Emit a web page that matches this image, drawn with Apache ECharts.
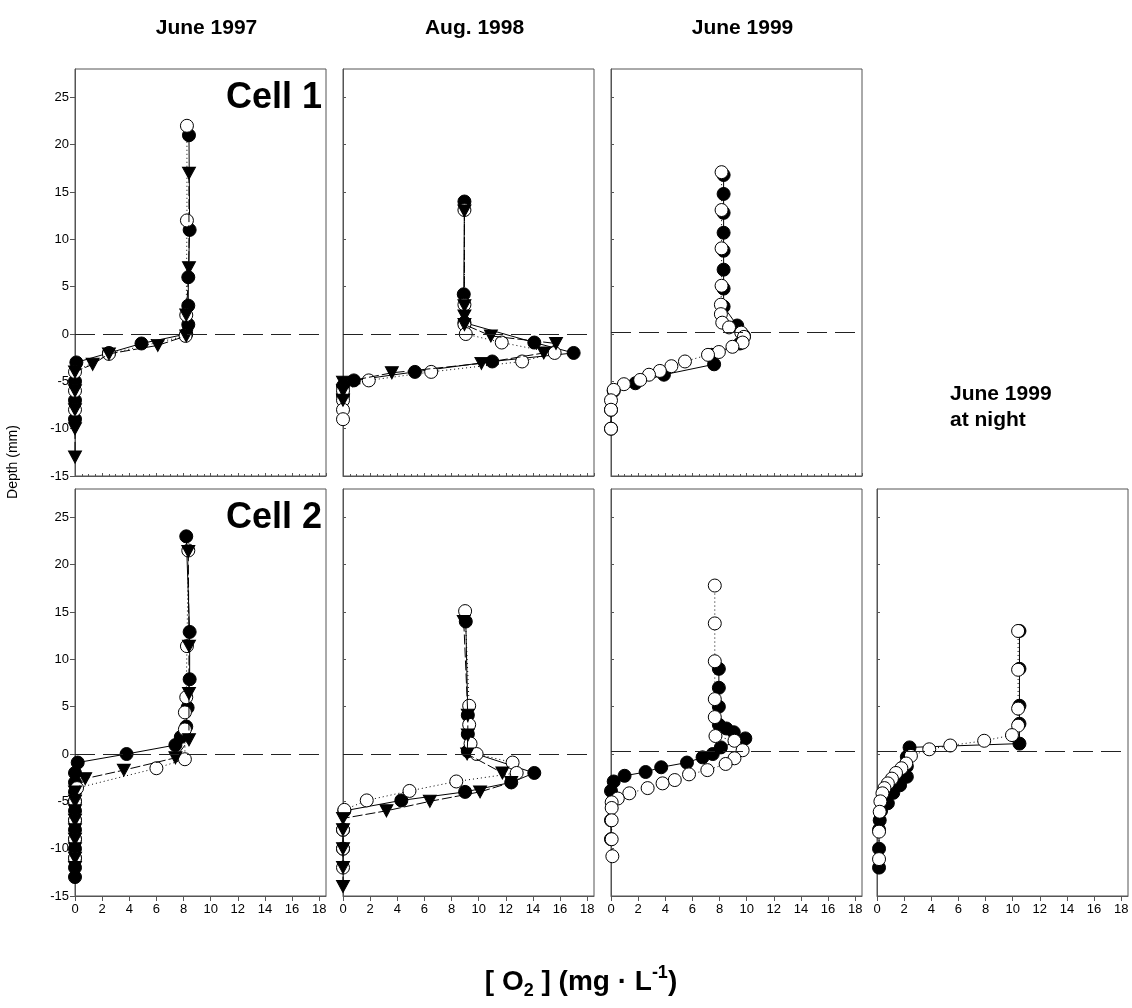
<!DOCTYPE html>
<html>
<head>
<meta charset="utf-8">
<script src="https://cdn.jsdelivr.net/npm/echarts@6/dist/echarts.min.js"></script>
<style>
  html, body { margin: 0; padding: 0; background: #fff; }
  #chart { width: 1132px; height: 1008px; }
</style>
</head>
<body>
<div id="chart"></div>
<script>
// points are [O2 (mg/L), depth (mm)]
// Cell 1
const c1_1997_filled = [[8.4,21],[8.45,11],[8.35,6],[8.35,3],[8.35,1],[8.2,0],[4.9,-1],[2.5,-2],[0.1,-3],[0,-5],[0,-7],[0,-9]];
const c1_1997_open   = [[8.25,22],[8.25,12],[8.2,2],[8.15,-0.2],[2.5,-2.1],[0,-4],[0,-6],[0,-8]];
const c1_1997_tri    = [[8.4,17],[8.4,7],[8.2,2],[8.2,-0.2],[6.1,-1.2],[2.5,-2.1],[1.3,-3.2],[0,-4],[0,-6],[0,-8],[0,-10],[0,-13]];

const c1_1998_filled = [[8.95,14],[8.9,4.2],[8.95,1.2],[14.1,-0.9],[17,-2],[11,-2.9],[5.3,-4],[0.8,-4.9],[0,-5.5],[0,-6.5]];
const c1_1998_open   = [[8.95,13.1],[8.95,3.1],[8.95,1],[9.05,0],[11.7,-0.9],[15.6,-2],[13.2,-2.9],[6.5,-4],[1.9,-4.9],[0,-6],[0,-7],[0,-8],[0,-9]];
const c1_1998_tri    = [[8.95,13],[8.95,3],[8.95,1.9],[8.95,1],[10.9,-0.2],[15.7,-1],[14.8,-2],[10.2,-3.1],[3.6,-4.1],[0,-5.1],[0,-6],[0,-7]];

const c1_1999_filled = [[8.3,16.8],[8.3,14.8],[8.3,12.8],[8.3,10.7],[8.3,8.8],[8.3,6.8],[8.3,4.8],[8.3,2.9],[9.3,0.9],[9.8,-0.2],[9.5,-1],[7.4,-2.2],[7.6,-3.2],[3.9,-4.3],[1.8,-5.2],[0.2,-6],[0,-8],[0,-10]];
const c1_1999_open   = [[8.15,17.1],[8.15,13.1],[8.15,9.05],[8.15,5.1],[8.1,3.1],[8.1,2.1],[8.2,1.2],[8.7,0.7],[9.6,0.15],[9.8,-0.3],[9.7,-0.9],[8.95,-1.35],[7.95,-1.9],[7.15,-2.2],[5.45,-2.9],[4.45,-3.4],[3.6,-3.9],[2.8,-4.3],[2.15,-4.85],[0.95,-5.3],[0.2,-5.9],[0,-7],[0,-8],[0,-10]];

// Cell 2
const c2_1997_filled = [[8.2,23],[8.45,12.9],[8.45,7.9],[8.3,4.9],[8.2,2.9],[7.8,1.8],[7.4,0.95],[3.8,0],[0.2,-0.9],[0,-2],[0,-3],[0,-4],[0,-5],[0,-6],[0,-7],[0,-8],[0,-9],[0,-10],[0,-11],[0,-12],[0,-13]];
const c2_1997_open   = [[8.35,21.5],[8.25,11.4],[8.2,6],[8.1,4.4],[8.1,2.6],[8.1,-0.55],[6,-1.5],[0.15,-3.6],[0,-5],[0,-7],[0,-9],[0,-11]];
const c2_1997_tri    = [[8.35,21.4],[8.4,11.4],[8.4,6.4],[8.4,1.5],[7.4,-0.4],[3.6,-1.7],[0.75,-2.6],[0,-4],[0,-5],[0,-6],[0,-7],[0,-8],[0,-9],[0,-10],[0,-11],[0,-12]];

const c2_1998_filled = [[9.05,14],[9.2,4.1],[9.2,2.1],[9.2,0.3],[14.1,-2],[12.4,-3],[9,-4],[4.3,-4.9],[0.1,-6],[0,-8],[0,-10]];
const c2_1998_open   = [[9,15.1],[9.3,5.1],[9.3,3.1],[9.4,1.1],[9.85,0],[12.5,-0.9],[12.8,-2],[8.35,-2.9],[4.9,-3.9],[1.75,-4.9],[0.1,-5.9],[0,-8],[0,-10],[0,-12]];
const c2_1998_tri    = [[8.9,14],[9.2,4.1],[9.2,2],[9.15,0],[11.75,-2],[12.4,-3],[10.1,-4],[6.4,-5],[3.2,-6],[0,-6.8],[0,-8],[0,-10],[0,-12],[0,-14]];

const c2_1999_filled = [[7.95,9],[7.95,7],[7.95,5],[7.95,3.1],[8.5,2.7],[9.05,2.3],[9.9,1.65],[8.1,0.7],[7.5,0],[6.75,-0.35],[5.6,-0.9],[3.7,-1.4],[2.55,-1.9],[1,-2.3],[0.2,-2.9],[0,-3.9],[0,-7],[0,-9]];
const c2_1999_open   = [[7.65,17.8],[7.65,13.8],[7.65,9.8],[7.65,5.8],[7.65,3.9],[7.7,1.9],[9.1,1.4],[9.7,0.4],[9.1,-0.45],[8.45,-1.05],[7.1,-1.7],[5.75,-2.15],[4.7,-2.75],[3.8,-3.1],[2.7,-3.6],[1.35,-4.15],[0.5,-4.7],[0.05,-5.1],[0.05,-5.7],[0.05,-7],[0.05,-9],[0.1,-10.8]];

const c2_night_filled = [[10.5,13],[10.5,9],[10.5,5.1],[10.5,3.2],[10.5,1.1],[2.4,0.7],[2.2,-0.3],[2.2,-1.3],[2.2,-2.4],[1.7,-3.3],[1.2,-4.1],[0.8,-5.2],[0.3,-6],[0.2,-7],[0.15,-8],[0.15,-10],[0.15,-12]];
const c2_night_open   = [[10.4,13],[10.4,8.9],[10.4,4.8],[10.4,3],[9.95,2],[7.9,1.4],[5.4,0.9],[3.85,0.5],[2.5,-0.2],[2.15,-1],[1.8,-1.5],[1.4,-2],[1.1,-2.6],[0.8,-3.1],[0.55,-3.6],[0.4,-4.15],[0.25,-5],[0.2,-6.1],[0.15,-8.2],[0.15,-11.1]];

// sediment surface (dashed line) per panel
const surfaceDepth = [0, 0, 0.2, 0, 0, 0.3, 0.3];

const columnTitles = ['June 1997', 'Aug. 1998', 'June 1999'];
const yTicks = [-15, -10, -5, 0, 5, 10, 15, 20, 25];
const xTicks = [0, 2, 4, 6, 8, 10, 12, 14, 16, 18];

// layout
const panelLefts = [75, 343, 611, 877];
const rowTops = [69, 489];
const panelW = 251;
const panelH = 407;
const FONT = '"Liberation Sans", Arial, sans-serif';

const panels = [
  { row: 0, col: 0, filled: c1_1997_filled, open: c1_1997_open, tri: c1_1997_tri },
  { row: 0, col: 1, filled: c1_1998_filled, open: c1_1998_open, tri: c1_1998_tri },
  { row: 0, col: 2, filled: c1_1999_filled, open: c1_1999_open },
  { row: 1, col: 0, filled: c2_1997_filled, open: c2_1997_open, tri: c2_1997_tri },
  { row: 1, col: 1, filled: c2_1998_filled, open: c2_1998_open, tri: c2_1998_tri },
  { row: 1, col: 2, filled: c2_1999_filled, open: c2_1999_open },
  { row: 1, col: 3, filled: c2_night_filled, open: c2_night_open },
];

const chart = echarts.init(document.getElementById('chart'));

const grid = [], xAxis = [], yAxis = [], series = [];

panels.forEach((p, i) => {
  const bottomRow = p.row === 1;
  const firstCol = p.col === 0;
  grid.push({
    left: panelLefts[p.col], top: rowTops[p.row], width: panelW, height: panelH,
    show: true, borderColor: '#555', borderWidth: 1, backgroundColor: 'transparent'
  });
  xAxis.push({
    gridIndex: i, type: 'value', min: 0, max: 18.5, interval: 2,
    axisLine: { show: true, onZero: false, lineStyle: { color: '#555', width: 1 } },
    axisTick: bottomRow
      ? { show: true, length: 5, customValues: xTicks, lineStyle: { color: '#555' } }
      : { show: true, inside: true, length: 3, lineStyle: { color: '#555' } },
    minorTick: { show: !bottomRow, splitNumber: 4, length: 2, lineStyle: { color: '#555' } },
    axisLabel: {
      show: bottomRow, color: '#000', fontSize: 13, fontFamily: FONT, margin: 7,
      customValues: xTicks
    },
    splitLine: { show: false }
  });
  yAxis.push({
    gridIndex: i, type: 'value', min: -15, max: 28, interval: 5,
    axisLine: { show: true, onZero: false, lineStyle: { color: '#555', width: 1 } },
    axisTick: {
      show: true, inside: !firstCol, length: firstCol ? 5 : 3,
      customValues: yTicks, lineStyle: { color: '#555' }
    },
    axisLabel: {
      show: firstCol, color: '#000', fontSize: 13, fontFamily: FONT, margin: 6,
      customValues: yTicks
    },
    splitLine: { show: false }
  });

  series.push({
    type: 'line', xAxisIndex: i, yAxisIndex: i, data: p.filled,
    symbol: 'circle', symbolSize: 13, showAllSymbol: true, z: 2,
    itemStyle: { color: '#000', borderColor: '#000', borderWidth: 1 },
    lineStyle: { color: '#000', width: 1, type: 'solid' },
    markLine: {
      silent: true, symbol: ['none', 'none'], label: { show: false },
      lineStyle: { color: '#222', width: 1, type: [20, 8] },
      data: [{ yAxis: surfaceDepth[i] }]
    }
  });
  series.push({
    type: 'line', xAxisIndex: i, yAxisIndex: i, data: p.open,
    symbol: 'circle', symbolSize: 13, showAllSymbol: true, z: 3,
    itemStyle: { color: '#fff', borderColor: '#000', borderWidth: 1 },
    lineStyle: { color: '#000', width: 1, type: [1, 3] }
  });
  if (p.tri) {
    series.push({
      type: 'line', xAxisIndex: i, yAxisIndex: i, data: p.tri,
      symbol: 'triangle', symbolRotate: 180, symbolSize: [13, 12], showAllSymbol: true, z: 4,
      itemStyle: { color: '#000', borderColor: '#000', borderWidth: 1 },
      lineStyle: { color: '#000', width: 1, type: [10, 3] }
    });
  }
});

const titleFont = 'bold 21px ' + FONT;
const graphic = [];
columnTitles.forEach((t, c) => {
  graphic.push({
    type: 'text', x: panelLefts[c] + panelW / 2 + 6, y: 28,
    style: { text: t, font: titleFont, fill: '#000', align: 'center', verticalAlign: 'middle' }
  });
});
graphic.push(
  { type: 'text', x: 950, y: 394, style: { text: 'June 1999', font: titleFont, fill: '#000', align: 'left', verticalAlign: 'middle' } },
  { type: 'text', x: 950, y: 420, style: { text: 'at night', font: titleFont, fill: '#000', align: 'left', verticalAlign: 'middle' } },
  { type: 'text', x: 322, y: 98, style: { text: 'Cell 1', font: 'bold 36px ' + FONT, fill: '#000', align: 'right', verticalAlign: 'middle' } },
  { type: 'text', x: 322, y: 518, style: { text: 'Cell 2', font: 'bold 36px ' + FONT, fill: '#000', align: 'right', verticalAlign: 'middle' } },
  { type: 'text', x: 13, y: 462, rotation: Math.PI / 2,
    style: { text: 'Depth (mm)', font: '14px ' + FONT, fill: '#000', align: 'center', verticalAlign: 'middle' } },
  { type: 'text', x: 581, y: 982,
    style: {
      text: '[ O{sub|2} ] (mg · L{sup|-1})', font: 'bold 28px ' + FONT, fill: '#000',
      align: 'center', verticalAlign: 'middle', lineHeight: 36,
      rich: {
        sub: { font: 'bold 18px ' + FONT, fill: '#000', verticalAlign: 'bottom', lineHeight: 18 },
        sup: { font: 'bold 18px ' + FONT, fill: '#000', verticalAlign: 'top', lineHeight: 18 }
      }
    }
  }
);

chart.setOption({
  animation: false,
  backgroundColor: '#fff',
  grid, xAxis, yAxis, series, graphic
});
</script>
</body>
</html>
